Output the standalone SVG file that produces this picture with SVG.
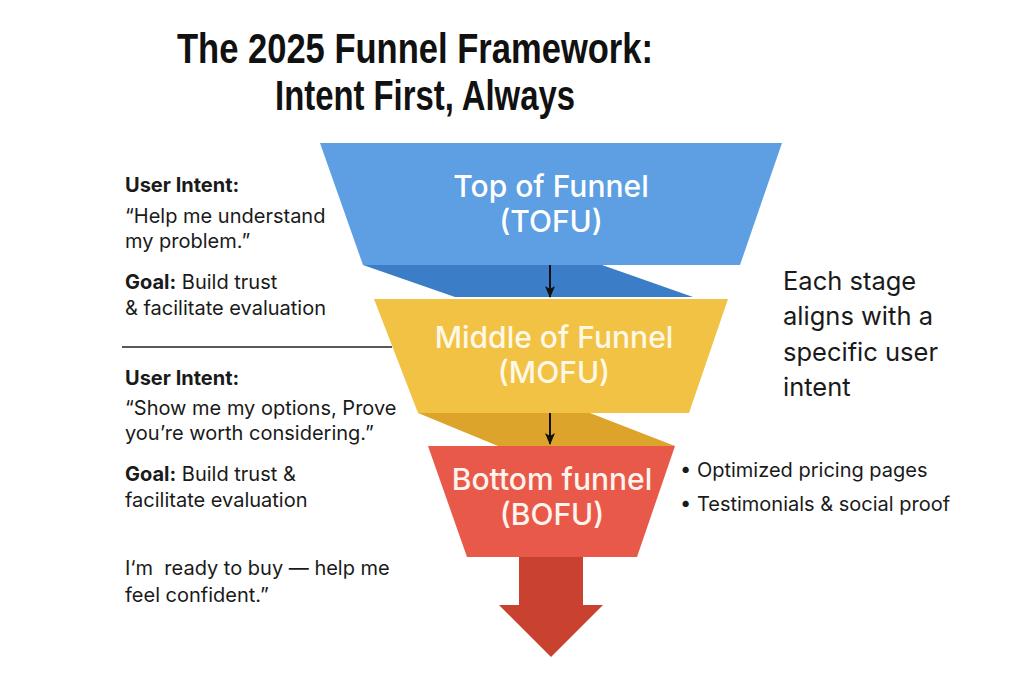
<svg xmlns="http://www.w3.org/2000/svg" width="1024" height="683" viewBox="0 0 1024 683">
<defs>
<marker id="arr" viewBox="0 0 12 10" refX="11" refY="5" markerWidth="12" markerHeight="10" orient="auto" markerUnits="userSpaceOnUse">
<path d="M0,0 L12,5 L0,10 L3,5 Z" fill="#111"/>
</marker>
<style>
.title{font-family:"Liberation Sans",Arial,sans-serif;font-weight:700;font-size:42px;fill:#111;text-anchor:middle}
.body{font-family:Inter,"Liberation Sans",sans-serif;font-size:20px;fill:#1a1a1a}
.b{font-weight:700}
.big{font-family:Inter,"Liberation Sans",sans-serif;font-size:25.5px;fill:#1a1a1a}
.lab{font-family:Inter,"Liberation Sans",sans-serif;font-weight:500;font-size:30px;text-anchor:middle}
.conn{stroke:#111;stroke-width:2;fill:none}
</style>
</defs>
<rect width="1024" height="683" fill="#ffffff"/>

<g id="title">
<text class="title" x="415" y="63" textLength="476" lengthAdjust="spacingAndGlyphs">The 2025 Funnel Framework:</text>
<text class="title" x="425" y="110" textLength="300" lengthAdjust="spacingAndGlyphs">Intent First, Always</text>
</g>

<g id="tofu">
<polygon points="363,265 602,265 693,297 455,297" fill="#3b7dc6"/>
<polygon points="320,143 782,143 740,265 363,265" fill="#5d9fe2"/>
<text class="lab" x="551" y="197" fill="#ffffff">Top of Funnel</text>
<text class="lab" x="551" y="232" fill="#ffffff">(TOFU)</text>
</g>

<g id="mofu">
<polygon points="418,413 590,413 675,446 498,446" fill="#dca42b"/>
<polygon points="374,299 728,299 689,413 418,413" fill="#f1c244"/>
<text class="lab" x="554" y="348" fill="#fff8e6">Middle of Funnel</text>
<text class="lab" x="554" y="383" fill="#fff8e6">(MOFU)</text>
</g>

<g id="bofu">
<polygon points="428,446 675,446 637,557 467,557" fill="#e9594a"/>
<text class="lab" x="552" y="490" fill="#fff4ee">Bottom funnel</text>
<text class="lab" x="552" y="525" fill="#fff4ee">(BOFU)</text>
<polygon points="519,557 583,557 583,605 603,605 551,657 499,605 519,605" fill="#c9412f"/>
</g>

<g id="connectors">
<line class="conn" x1="550" y1="265" x2="550" y2="297" marker-end="url(#arr)"/>
<line class="conn" x1="550" y1="413" x2="550" y2="444" marker-end="url(#arr)"/>
<line x1="122" y1="347" x2="392" y2="347" stroke="#222" stroke-width="1.5"/>
</g>

<g id="tofu-notes">
<text class="body b" x="125" y="192">User Intent:</text>
<text class="body" x="125" y="223">“Help me understand</text>
<text class="body" x="125" y="248">my problem.”</text>
<text class="body" x="125" y="289"><tspan class="b">Goal:</tspan> Build trust</text>
<text class="body" x="125" y="315">&amp; facilitate evaluation</text>
</g>

<g id="mofu-notes">
<text class="body b" x="125" y="385">User Intent:</text>
<text class="body" x="125" y="415">“Show me my options, Prove</text>
<text class="body" x="125" y="440">you’re worth considering.”</text>
<text class="body" x="125" y="481"><tspan class="b">Goal:</tspan> Build trust &amp;</text>
<text class="body" x="125" y="507">facilitate evaluation</text>
</g>

<g id="bofu-notes">
<text class="body" x="125" y="575" xml:space="preserve">I‘m  ready to buy — help me</text>
<text class="body" x="125" y="602">feel confident.”</text>
</g>

<g id="stage-note">
<text class="big" x="783" y="290">Each stage</text>
<text class="big" x="783" y="325">aligns with a</text>
<text class="big" x="783" y="361">specific user</text>
<text class="big" x="783" y="396">intent</text>
</g>

<g id="bofu-bullets">
<text class="body" x="680" y="477">• Optimized pricing pages</text>
<text class="body" x="680" y="511">• Testimonials &amp; social proof</text>
</g>
</svg>
